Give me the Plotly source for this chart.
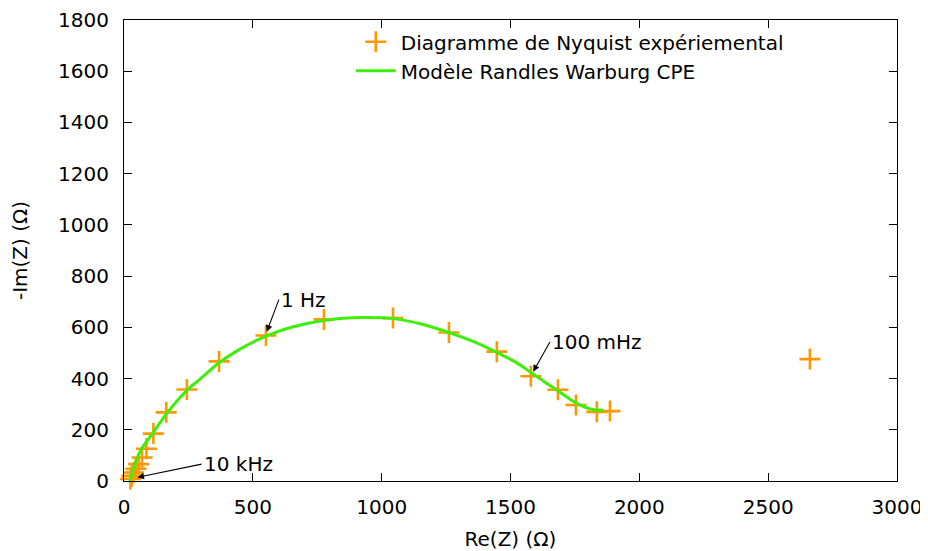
import plotly.graph_objects as go

# Experimental Nyquist data (Re(Z), -Im(Z)) in Ohm
exp_re = [20, 22, 25, 30, 37, 46, 57, 70, 87, 114, 164, 244, 369, 551, 776,
          1044, 1261, 1447, 1579, 1684, 1754, 1835, 1886, 2662]
exp_im = [-14, -3, 8, 20, 33, 48, 66, 92, 126, 185, 268, 357, 467, 568, 631,
          636, 580, 505, 409, 356, 297, 270, 273, 476]

# Randles Warburg CPE model curve
mod_re = [23, 40, 68, 114, 166, 242, 295, 369, 450, 551, 660, 776, 850, 930,
          1044, 1150, 1261, 1360, 1447, 1520, 1579, 1640, 1684, 1720, 1754,
          1790, 1820, 1860]
mod_im = [0, 60, 125, 190, 264, 352, 398, 462, 515, 566, 603, 627, 635, 638,
          634, 614, 580, 543, 502, 464, 424, 382, 352, 327, 305, 288, 279, 276]

# Frequency annotations: label, tip (re, im), tail (re, im)
ann_labels = ["1 Hz", "100 mHz", "10 kHz"]
ann_tip_re = [554, 1588, 52]
ann_tip_im = [583, 427, 14]
ann_tail_re = [601, 1653, 301]
ann_tail_im = [708, 543, 66]

x_ticks = [0, 500, 1000, 1500, 2000, 2500, 3000]
y_ticks = [0, 200, 400, 600, 800, 1000, 1200, 1400, 1600, 1800]

ORANGE = "#ff9800"
GREEN = "#3fee0a"
FONT = "DejaVu Sans"

fig = go.Figure()
fig.add_trace(go.Scatter(
    x=exp_re, y=exp_im, mode="markers",
    name="Diagramme de Nyquist expériemental",
    marker=dict(symbol="cross-thin", size=15,
                line=dict(color=ORANGE, width=2.6), color=ORANGE),
    cliponaxis=False,
))
fig.add_trace(go.Scatter(
    x=mod_re, y=mod_im, mode="lines",
    name="Modèle Randles Warburg CPE",
    line=dict(color=GREEN, width=3, shape="spline", smoothing=0.8),
))

for lab, tx, ty, ax, ay in zip(ann_labels, ann_tip_re, ann_tip_im,
                               ann_tail_re, ann_tail_im):
    fig.add_annotation(
        x=tx, y=ty, ax=ax, ay=ay, xref="x", yref="y", axref="x", ayref="y",
        text=lab, showarrow=True, arrowhead=2, arrowsize=1.2, arrowwidth=1.1,
        arrowcolor="black", xanchor="left", yanchor="middle",
        font=dict(family=FONT, size=20, color="black"),
        standoff=0, startstandoff=0,
    )

axis_common = dict(
    showline=True, linecolor="black", linewidth=1.2, mirror="ticks",
    ticks="inside", ticklen=8, tickwidth=1.1, tickcolor="black",
    showgrid=False, zeroline=False,
    tickfont=dict(family=FONT, size=20, color="black"),
)

fig.update_xaxes(
    range=[0, 3000], tickvals=x_ticks, ticklabelstandoff=8,
    title=dict(text="Re(Z) (Ω)", font=dict(family=FONT, size=20, color="black"),
               standoff=18),
    **axis_common,
)
fig.update_yaxes(
    range=[0, 1800], tickvals=y_ticks, ticklabelstandoff=10,
    title=dict(text="-Im(Z) (Ω)", font=dict(family=FONT, size=20, color="black"),
               standoff=28),
    **axis_common,
)

fig.update_layout(
    width=920, height=543,
    margin=dict(l=116, r=31, t=12, b=70, autoexpand=False),
    paper_bgcolor="white", plot_bgcolor="white",
    font=dict(family=FONT, size=20, color="black"),
    showlegend=True,
    legend=dict(x=0.86, xanchor="right", y=0.995, yanchor="top",
                bgcolor="rgba(0,0,0,0)", borderwidth=0,
                font=dict(family=FONT, size=20, color="black"),
                itemwidth=40, tracegroupgap=0),
)

fig.write_html("out.html")
